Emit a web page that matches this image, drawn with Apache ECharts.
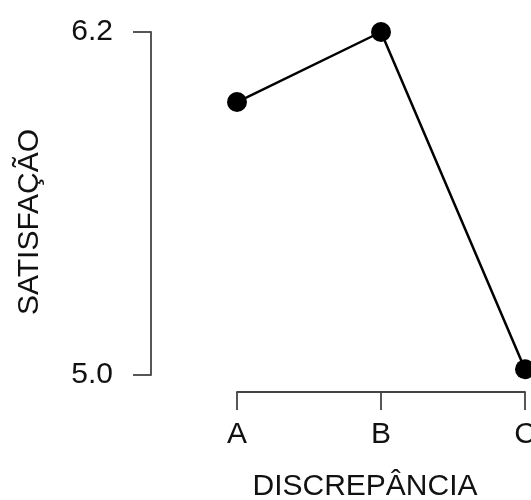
<!DOCTYPE html>
<html>
<head>
<meta charset="utf-8">
<script src="https://cdn.jsdelivr.net/npm/echarts@6/dist/echarts.min.js"></script>
<style>html,body{margin:0;padding:0;background:#fff}#c{width:531px;height:500px}</style>
</head>
<body>
<div id="c"></div>
<script>
const categories = ['A', 'B', 'C'];
const satisfacao = [5.955, 6.2, 5.02];
const yTicks = [5.0, 6.2];
const xTitle = 'DISCREPÂNCIA';
const yTitle = 'SATISFAÇÃO';

const font = 'Liberation Sans, Arial, Helvetica, sans-serif';
const axisColor = '#444';
const textColor = '#111';
const chart = echarts.init(document.getElementById('c'), null, {renderer: 'canvas'});
chart.setOption({
  animation: false,
  backgroundColor: '#fff',
  grid: {left: 237, right: 6, top: 32, bottom: 125, containLabel: false, outerBoundsMode: 'none'},
  xAxis: {
    type: 'category',
    data: categories,
    boundaryGap: false,
    offset: 17,
    axisLine: {show: true, lineStyle: {color: axisColor, width: 1.8}},
    axisTick: {show: true, length: 18, inside: false, alignWithLabel: true, lineStyle: {color: axisColor, width: 1.8}},
    axisLabel: {show: true, margin: 28, fontSize: 30, fontFamily: font, color: textColor, hideOverlap: false},
    splitLine: {show: false}
  },
  yAxis: {
    type: 'value',
    min: yTicks[0],
    max: yTicks[yTicks.length - 1],
    interval: yTicks[1] - yTicks[0],
    offset: 86,
    axisLine: {show: true, lineStyle: {color: axisColor, width: 1.8}},
    axisTick: {show: true, length: 18, inside: false, lineStyle: {color: axisColor, width: 1.8}},
    axisLabel: {show: true, margin: 38, fontSize: 30, fontFamily: font, color: textColor,
      formatter: v => v.toFixed(1)},
    splitLine: {show: false}
  },
  graphic: [
    {type: 'text', x: 365, y: 487, style: {text: xTitle, font: '30px ' + font, fill: textColor, align: 'center', verticalAlign: 'middle'}},
    {type: 'text', x: 30, y: 222, rotation: Math.PI / 2, style: {text: yTitle, font: '30px ' + font, fill: textColor, align: 'center', verticalAlign: 'middle'}}
  ],
  series: [{
    type: 'line',
    data: satisfacao,
    clip: false,
    symbol: 'circle',
    symbolSize: 20,
    lineStyle: {color: '#000', width: 2.5},
    itemStyle: {color: '#000'},
    z: 3
  }]
});
</script>
</body>
</html>
